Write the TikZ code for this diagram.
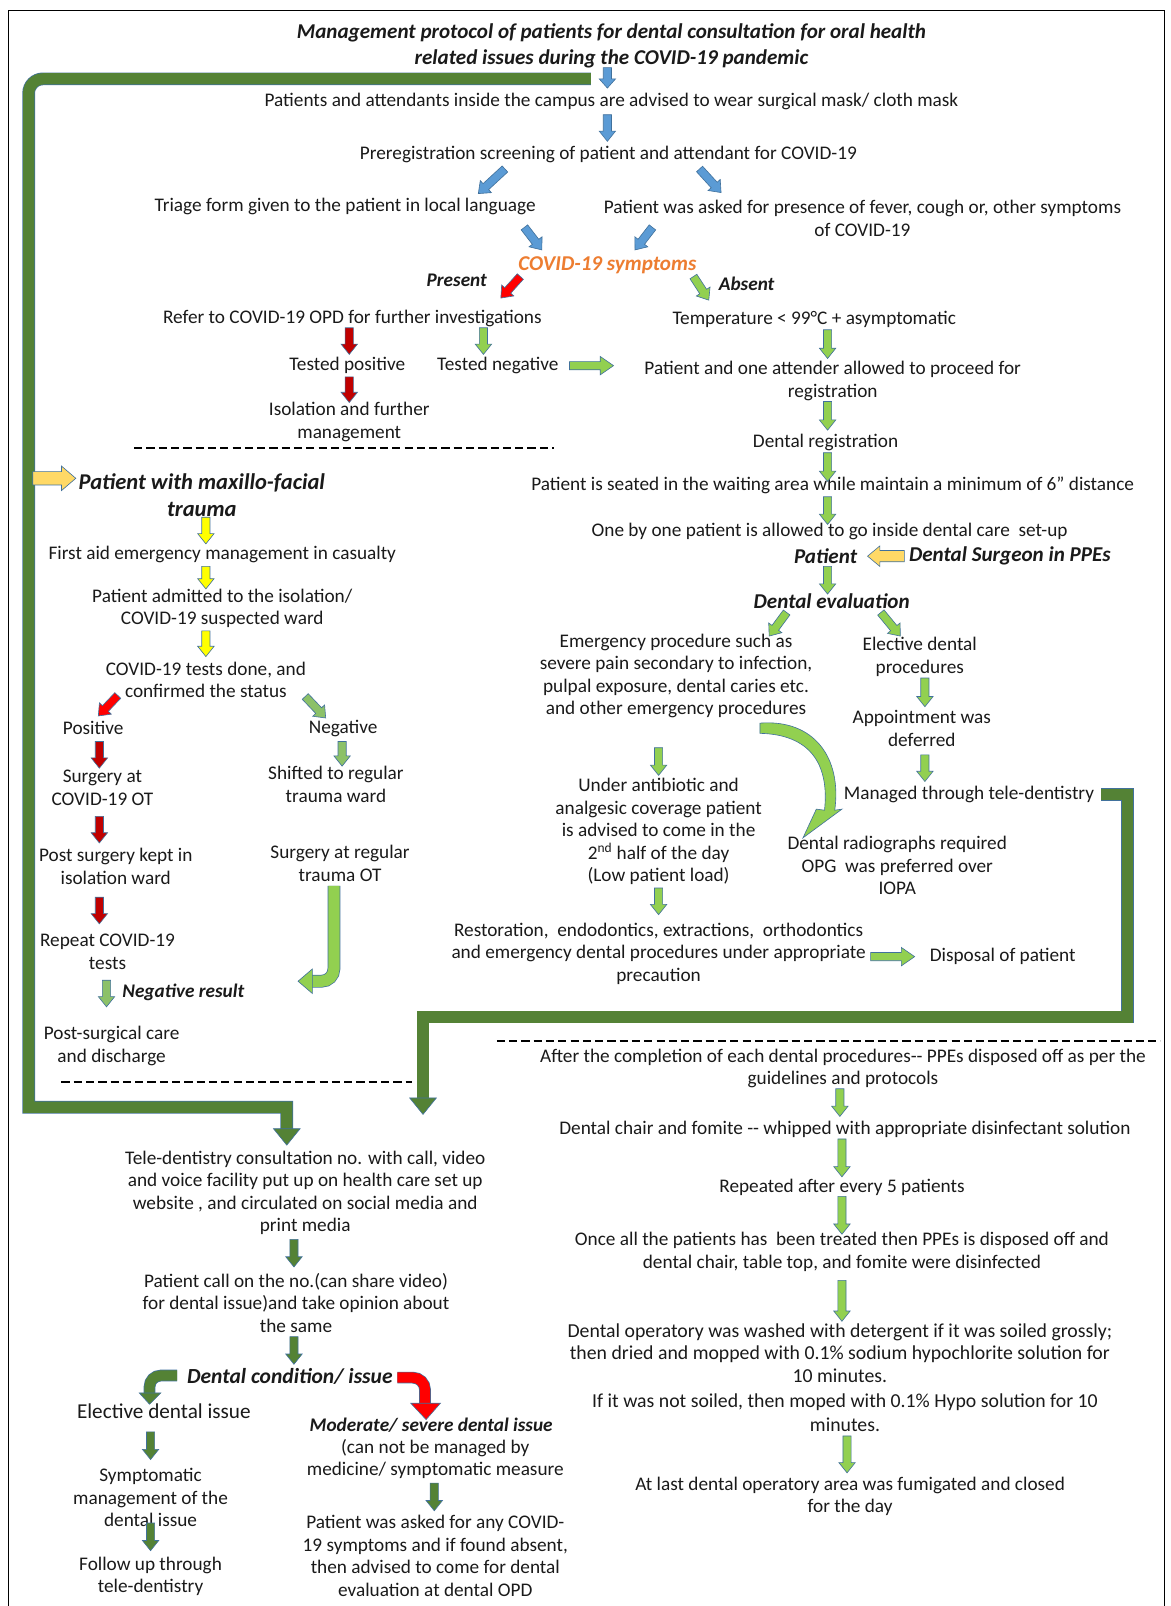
\documentclass[tikz,border=0pt]{standalone}
\usepackage{fontspec}
\setmainfont{Carlito}
\usetikzlibrary{calc}
\definecolor{aline}{HTML}{41719C}
\definecolor{ablue}{HTML}{5B9BD5}
\definecolor{agreen}{HTML}{92D050}
\definecolor{amid}{HTML}{8CC168}
\definecolor{adark}{HTML}{548235}
\definecolor{ared}{HTML}{FF0000}
\definecolor{adred}{HTML}{C00000}
\definecolor{ayel}{HTML}{FFFF00}
\definecolor{agold}{HTML}{FFD966}
\definecolor{aorange}{HTML}{ED7D31}
\definecolor{txtc}{HTML}{1A1A1A}
% block arrow: fill, start, end, shaft half, head half, head length
\newcommand\barrowx[6]{%
  \coordinate (ba-s) at #2;
  \coordinate (ba-e) at #3;
  \coordinate (ba-h) at ($(ba-e)!#6pt!(ba-s)$);
  \filldraw[fill=#1, draw=aline, line width=0.6pt, line join=miter]
    ($(ba-s)!#4pt!90:(ba-e)$) -- ($(ba-h)!#4pt!-90:(ba-s)$) -- ($(ba-h)!#5pt!-90:(ba-s)$) -- (ba-e)
    -- ($(ba-h)!#5pt!90:(ba-s)$) -- ($(ba-h)!#4pt!90:(ba-s)$) -- ($(ba-s)!#4pt!-90:(ba-e)$) -- cycle;}
\newcommand\barrow[3]{\barrowx{#1}{#2}{#3}{4}{8}{10}}
% thick band: colour, outer width, inner width, path
\newcommand\bandpath[4]{%
  \draw[aline, line width=#2, line join=miter] #4;
  \draw[#1, line width=#3, line join=miter] #4;}
\newcommand\bifont[2]{\fontsize{#1}{#2}\selectfont\bfseries\itshape}
\begin{document}
\begin{tikzpicture}[x=1pt,y=-1pt,
  txt/.style={font=\fontsize{18.8}{22}\selectfont, align=center, inner sep=0pt, text=txtc},
  hd/.style={font=\bifont{20.6}{25}, align=center, inner sep=0pt, text=txtc},
  hds/.style={font=\bifont{18.8}{22}, align=center, inner sep=0pt, text=txtc},
  dashsep/.style={line width=2pt, dash pattern=on 8pt off 4pt}]
\useasboundingbox (0,0) rectangle (1143,1568);
\fill[white] (0,0) rectangle (1143,1568);
\draw[line width=1pt] (8,1568) -- (8,10) -- (1137,10) -- (1137,1568);

% ---------- big dark green bands ----------
\bandpath{adark}{12.4pt}{11pt}{(577,77) -- (42,77) to[out=180,in=90] (28,91) -- (28,1081) -- (280,1081) -- (280,1104)}
\filldraw[fill=adark, draw=aline, line width=0.6pt] (267,1102) -- (293,1102) -- (280,1118) -- cycle;
\bandpath{adark}{12.4pt}{11pt}{(1075,776) -- (1101,776) -- (1101,993) -- (413,993) -- (413,1074)}
\filldraw[fill=adark, draw=aline, line width=0.6pt] (400,1072) -- (426,1072) -- (413,1088) -- cycle;

% ---------- text nodes ----------
\node[hd] (title) at (597,45) {Management protocol of patients for dental consultation for oral health\\related issues during the COVID-19 pandemic};
\node[txt] (mask) at (597,99) {Patients and attendants inside the campus are advised to wear surgical mask/ cloth mask};
\node[txt] (prereg) at (594,151) {Preregistration screening of patient and attendant for COVID-19};
\node[txt] (triage) at (337,202) {Triage form given to the patient in local language};
\node[txt] (asked) at (842,213) {Patient was asked for presence of fever, cough or, other symptoms\\of COVID-19};
\node[hd, text=aorange] (sym) at (593,259) {COVID-19 symptoms};
\node[hds] (present) at (446,274) {Present};
\node[hds] (absent) at (729,277) {Absent};
\node[txt] (refer) at (344,311) {Refer to COVID-19 OPD for further investigations};
\node[txt] (temp) at (795,312) {Temperature < 99°C + asymptomatic};
\node[txt] (tpos) at (339,357) {Tested positive};
\node[txt] (tneg) at (486,357) {Tested negative};
\node[txt] (proceed) at (813,372) {Patient and one attender allowed to proceed for\\registration};
\node[txt] (iso) at (341,412) {Isolation and further\\management};
\node[txt] (dreg) at (806,432) {Dental registration};
\node[hd, font=\bifont{22}{27}] (maxf) at (197,483.5) {Patient with maxillo-facial\\trauma};
\node[txt] (seated) at (813,474) {Patient is seated in the waiting area while maintain a minimum of 6” distance};
\node[txt] (onebyone) at (810,519) {One by one patient is allowed to go inside dental care\ \ set-up};
\node[txt] (firstaid) at (217,541) {First aid emergency management in casualty};
\node[hd] (patient) at (806,543) {Patient};
\node[hd] (surgeon) at (986,543) {Dental Surgeon in PPEs};
\node[txt] (admitted) at (217,594) {Patient admitted to the isolation/\\COVID-19 suspected ward};
\node[hd] (deval) at (812,587) {Dental evaluation};
\node[txt] (emerg) at (660,660) {Emergency procedure such as\\severe pain secondary to infection,\\pulpal exposure, dental caries etc.\\and other emergency procedures};
\node[txt] (elective) at (898,641.5) {Elective dental\\procedures};
\node[txt] (tests) at (201,664) {COVID-19 tests done, and\\confirmed the status};
\node[txt] (positive) at (91,711) {Positive};
\node[txt] (negative) at (335,711) {Negative};
\node[txt] (appoint) at (900,711) {Appointment was\\deferred};
\node[txt] (surgcov) at (100,769) {Surgery at\\COVID-19 OT};
\node[txt] (shifted) at (328,766) {Shifted to regular\\trauma ward};
\node[txt] (managed) at (946,776) {Managed through tele-dentistry};
\node[txt] (antib) at (643,812) {Under antibiotic and\\analgesic coverage patient\\is advised to come in the\\2\textsuperscript{nd} half of the day\\(Low patient load)};
\node[txt] (postsurg) at (113,846) {Post surgery kept in\\isolation ward};
\node[txt] (surgreg) at (332,843) {Surgery at regular\\trauma OT};
\node[txt] (radio) at (876,845) {Dental radiographs required\\OPG\ \ was preferred over\\IOPA};
\node[txt] (resto) at (643,931) {Restoration,\ \ endodontics, extractions,\ \ orthodontics\\and emergency dental procedures under appropriate\\precaution};
\node[txt] (disposal) at (979,934) {Disposal of patient};
\node[txt] (repeat) at (105,929.5) {Repeat COVID-19\\tests};
\node[hds] (negres) at (179,969) {Negative result};
\node[txt] (postcare) at (109,1021) {Post-surgical care\\and discharge};
\node[txt] (after) at (823,1043) {After the completion of each dental procedures-{}- PPEs disposed off as per the\\guidelines and protocols};
\node[txt] (chair) at (825,1103) {Dental chair and fomite -{}- whipped with appropriate disinfectant solution};
\node[txt] (tele) at (298,1164.5) {Tele-dentistry consultation no. with call, video\\and voice facility put up on health care set up\\website , and circulated on social media and\\print media};
\node[txt] (repeated) at (822,1159) {Repeated after every 5 patients};
\node[txt] (once) at (822,1222) {Once all the patients has\ \ been treated then PPEs is disposed off and\\dental chair, table top, and fomite were disinfected};
\node[txt] (call) at (289,1272) {Patient call on the no.(can share video)\\for dental issue)and take opinion about\\the same};
\node[txt, font=\fontsize{19.3}{22}\selectfont] (op1) at (820,1321) {Dental operatory was washed with detergent if it was soiled grossly;\\then dried and mopped with 0.1\% sodium hypochlorite solution for\\10 minutes.};
\node[txt, font=\fontsize{19.3}{23}\selectfont] (op2) at (825,1379.5) {If it was not soiled, then moped with 0.1\% Hypo solution for 10\\minutes.};
\node[hd, font=\bifont{21}{25}] (dcond) at (283,1344) {Dental condition/ issue};
\node[txt, font=\fontsize{20.7}{22}\selectfont] (eliss) at (160,1378) {Elective dental issue};
\node[hds] (moder) at (421,1391) {Moderate/ severe dental issue};
\node[txt] (cannot) at (425,1424.5) {(can not be managed by\\medicine/ symptomatic measure};
\node[txt] (sympt) at (147,1462) {Symptomatic\\management of the\\dental issue};
\node[txt] (atlast) at (830,1461) {At last dental operatory area was fumigated and closed\\for the day};
\node[txt] (askcov) at (425,1519) {Patient was asked for any COVID-\\19 symptoms and if found absent,\\then advised to come for dental\\evaluation at dental OPD};
\node[txt] (follow) at (147,1539) {Follow up through\\tele-dentistry};

% ---------- dashed separators ----------
\draw[dashsep] (131,437) -- (541,437);
\draw[dashsep] (60,1056) -- (402,1056);
\draw[dashsep] (485,1016) -- (1133,1016);

% ---------- block arrows ----------
\barrowx{ablue}{(593,66)}{(593,86)}{4}{8}{9}
\barrow{ablue}{(593,112)}{(593,138)}
\barrow{ablue}{(493,165)}{(467,189)}
\barrow{ablue}{(683,165)}{(704,188)}
\barrow{ablue}{(512,222)}{(529,244)}
\barrow{ablue}{(637,222)}{(620,244)}
\barrow{ared}{(508,270)}{(489,291)}
\barrow{agreen}{(677,270)}{(692,293)}
\barrow{adred}{(341,320)}{(341,346)}
\barrow{adred}{(341,368)}{(341,393)}
\barrow{agreen}{(472,320)}{(472,346)}
\barrowx{agreen}{(556,357)}{(599,357)}{4}{9}{13}
\barrow{agreen}{(808,322)}{(808,350)}
\barrow{agreen}{(808,392)}{(808,420)}
\barrow{agreen}{(808,442)}{(808,470)}
\barrow{agreen}{(808,485)}{(808,512)}
\barrow{agreen}{(808,553)}{(808,580)}
\barrow{agreen}{(768,598)}{(751,621)}
\barrow{agreen}{(860,598)}{(879,621)}
\barrow{ayel}{(201,505)}{(201,531)}
\barrow{ayel}{(201,553)}{(201,575)}
\barrow{ayel}{(201,616)}{(201,641)}
\barrowx{agold}{(32,467)}{(74,467)}{6.5}{12}{14}
\barrowx{agold}{(883,543)}{(847,543)}{5.5}{10}{12}
\barrow{ared}{(115,679)}{(96,699)}
\barrow{amid}{(298,680)}{(318,701)}
\barrow{amid}{(334,724)}{(334,748)}
\barrow{adred}{(97,724)}{(97,750)}
\barrow{adred}{(97,797)}{(97,823)}
\barrow{adred}{(97,876)}{(97,902)}
\barrow{agreen}{(903,662)}{(903,690)}
\barrow{agreen}{(903,737)}{(903,763)}
\barrow{agreen}{(643,730)}{(643,757)}
\barrow{agreen}{(643,867)}{(643,893)}
\barrowx{agreen}{(850,934)}{(893,934)}{4}{9}{13}
\barrow{amid}{(104,957)}{(104,983)}
\barrow{agreen}{(820,1063)}{(820,1090)}
\barrow{agreen}{(822,1112)}{(822,1149)}
\barrow{agreen}{(822,1168)}{(822,1205)}
\barrow{agreen}{(822,1250)}{(822,1290)}
\barrow{agreen}{(827,1402)}{(827,1438)}
\barrow{adark}{(287,1210)}{(287,1237)}
\barrow{adark}{(287,1305)}{(287,1332)}
\barrow{adark}{(147,1398)}{(147,1425)}
\barrow{adark}{(147,1487)}{(147,1514)}
\barrow{adark}{(424,1448)}{(424,1475)}

% ---------- curved arrow emergency -> radiographs ----------
\filldraw[fill=agreen, draw=aline, line width=0.6pt]
  (742,706) .. controls (795,702) and (822,740) .. (815,791) -- (822,790) -- (784,818) -- (797,790) -- (805,791)
  .. controls (810,745) and (790,717) .. (742,716) -- cycle;

% ---------- U arrow surgery at regular trauma OT ----------
\bandpath{agreen}{12.4pt}{11pt}{(326,865) -- (326,946) to[out=-90,in=0] (314,958) -- (303,958)}
\filldraw[fill=agreen, draw=aline, line width=0.6pt] (305,946) -- (305,970) -- (291,958) -- cycle;

% ---------- bent arrows dental condition ----------
\bandpath{adark}{11.4pt}{10pt}{(173,1343) -- (157,1343) to[out=180,in=90] (146,1354) -- (146,1362)}
\filldraw[fill=adark, draw=aline, line width=0.6pt] (136,1360) -- (157,1360) -- (146,1371) -- cycle;
\bandpath{ared}{11.4pt}{10pt}{(388,1345) -- (403,1345) to[out=0,in=90] (415,1357) -- (415,1372)}
\filldraw[fill=ared, draw=aline, line width=0.6pt] (401,1370) -- (430,1370) -- (416,1386) -- cycle;
\end{tikzpicture}
\end{document}
